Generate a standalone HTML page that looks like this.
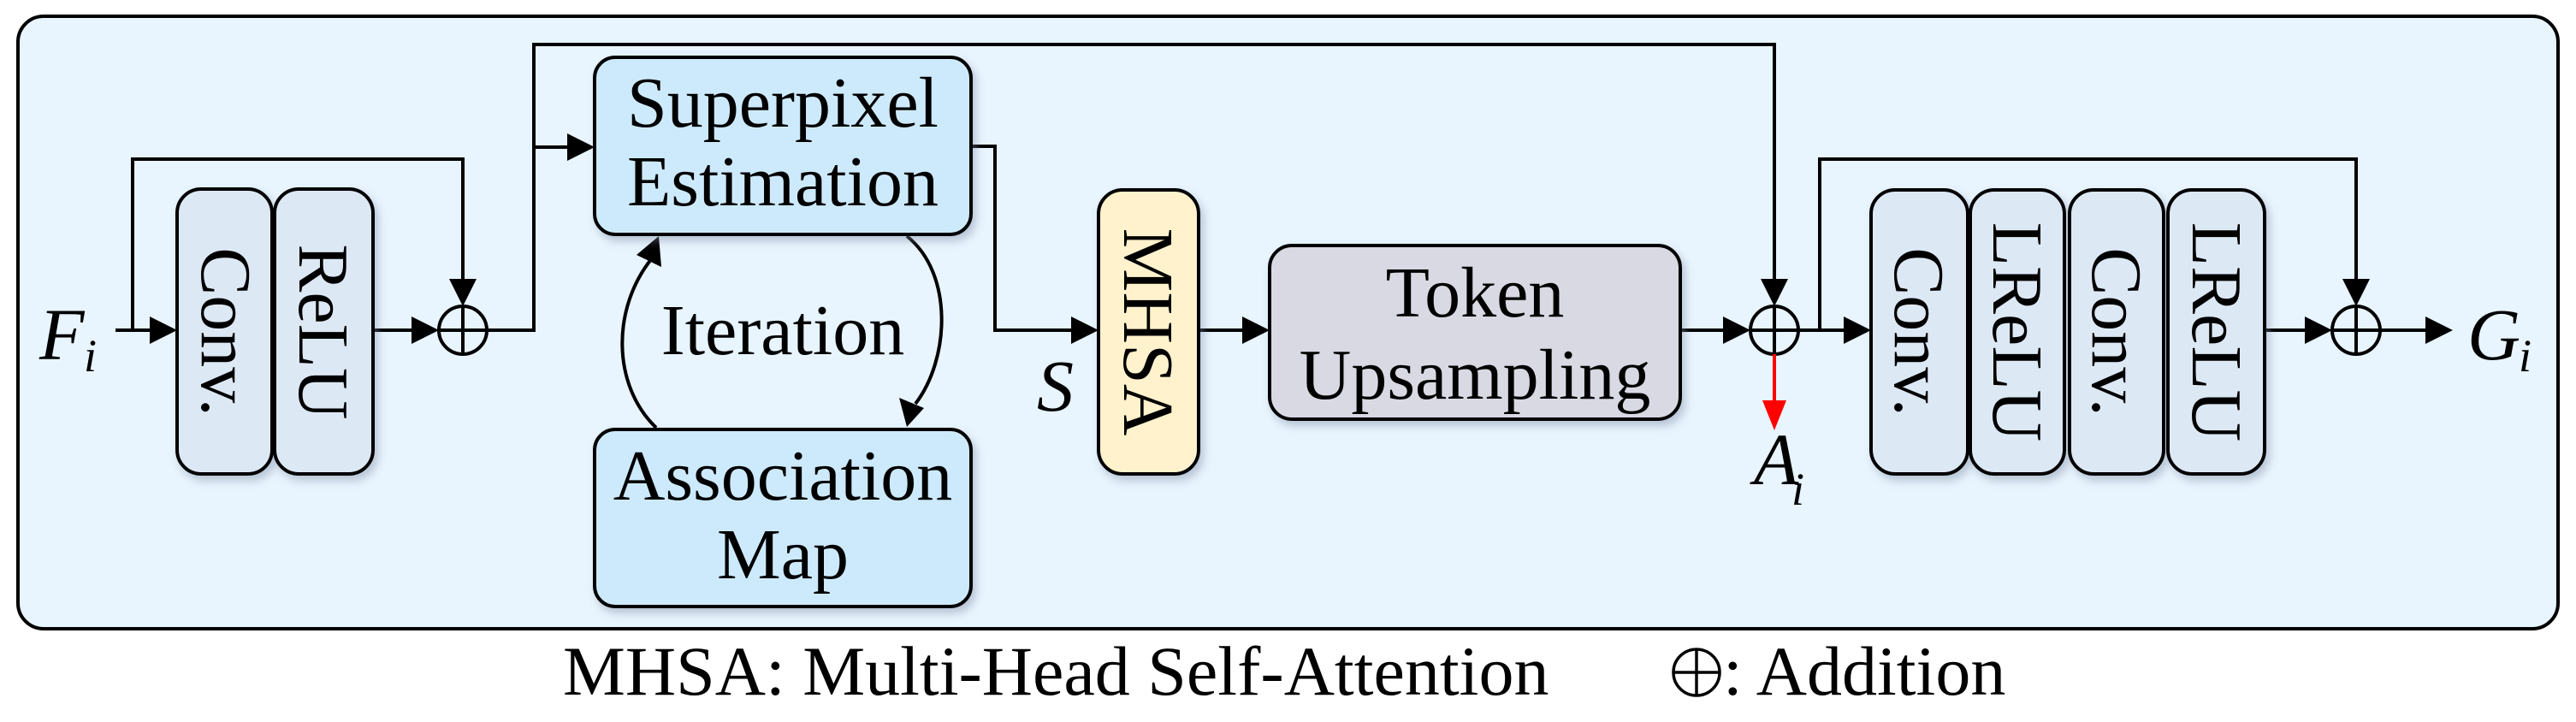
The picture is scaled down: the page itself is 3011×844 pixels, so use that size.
<!DOCTYPE html>
<html><head><meta charset="utf-8"><style>
html,body{margin:0;padding:0;background:#fff;}
svg{display:block;}
svg text{font-family:"Liberation Serif","Times New Roman",Times,"DejaVu Serif",serif !important;fill:#000;}
</style></head><body>
<svg width="3011" height="844" viewBox="0 0 3011 844" xmlns="http://www.w3.org/2000/svg" font-family="'Liberation Serif', 'Times New Roman', Times, 'DejaVu Serif', serif">
<defs>
<filter id="sh" x="-20%" y="-20%" width="140%" height="140%"><feDropShadow dx="4" dy="6" stdDeviation="5" flood-color="#7a8aa0" flood-opacity="0.45"/></filter>
</defs>
<rect x="21" y="19" width="2969" height="716" rx="30" fill="#e8f4fe" stroke="#000" stroke-width="4"/>

<g stroke="#000" stroke-width="4" fill="none">
<line x1="135" y1="386" x2="180" y2="386"/>
<polyline points="155,386 155,186 541,186 541,330"/>
<line x1="436" y1="386" x2="485" y2="386"/>
<polyline points="569,386 624,386 624,52 2074,52 2074,330"/>
<line x1="624" y1="172" x2="665" y2="172"/>
<polyline points="1135,171 1163,171 1163,386 1254,386"/>
<line x1="1401" y1="386" x2="1454" y2="386"/>
<line x1="1964" y1="386" x2="2018" y2="386"/>
<line x1="2102" y1="386" x2="2157" y2="386"/>
<polyline points="2127,386 2127,186 2754,186 2754,330"/>
<line x1="2647" y1="386" x2="2698" y2="386"/>
<line x1="2782" y1="386" x2="2838" y2="386"/>
<circle cx="541" cy="386" r="28"/>
<line x1="513" y1="386" x2="569" y2="386"/><line x1="541" y1="358" x2="541" y2="414"/>
<circle cx="2074" cy="386" r="28"/>
<line x1="2046" y1="386" x2="2102" y2="386"/><line x1="2074" y1="358" x2="2074" y2="414"/>
<circle cx="2754" cy="386" r="28"/>
<line x1="2726" y1="386" x2="2782" y2="386"/><line x1="2754" y1="358" x2="2754" y2="414"/>
<path d="M767,500 C715,450 715,360 762,302"/>
<path d="M1060,276 C1115,320 1110,420 1070,472"/>
</g>
<g fill="#000">
<polygon points="207,386 175,370 175,402"/>
<polygon points="513,386 481,370 481,402"/>
<polygon points="541,358 525,326 557,326"/>
<polygon points="695,172 663,156 663,188"/>
<polygon points="1284,386 1252,370 1252,402"/>
<polygon points="1484,386 1452,370 1452,402"/>
<polygon points="2046,386 2014,370 2014,402"/>
<polygon points="2074,358 2058,326 2090,326"/>
<polygon points="2187,386 2155,370 2155,402"/>
<polygon points="2726,386 2694,370 2694,402"/>
<polygon points="2754,358 2738,326 2770,326"/>
<polygon points="2867,386 2835,370 2835,402"/>
<polygon points="770,276 773,312 744,298"/>
<polygon points="1060,499 1051,465 1080,477"/>
</g>
<line x1="2074" y1="414" x2="2074" y2="470" stroke="#ff0000" stroke-width="4"/>
<polygon points="2074,503 2060,468 2088,468" fill="#ff0000"/>

<g stroke="#000" stroke-width="4" filter="url(#sh)">
<rect x="207" y="221" width="111" height="333" rx="28" fill="#dde8f5"/>
<rect x="321" y="221" width="115" height="333" rx="28" fill="#dde8f5"/>
<rect x="695" y="67" width="440" height="207" rx="24" fill="#cdeafc"/>
<rect x="695" y="502" width="440" height="207" rx="24" fill="#cdeafc"/>
<rect x="1284" y="222" width="117" height="332" rx="28" fill="#fff2cc"/>
<rect x="1484" y="287" width="480" height="203" rx="26" fill="#d9d9e4"/>
<rect x="2187" y="222" width="113" height="332" rx="28" fill="#dde8f5"/>
<rect x="2303" y="222" width="110" height="332" rx="28" fill="#dde8f5"/>
<rect x="2419" y="222" width="110" height="332" rx="28" fill="#dde8f5"/>
<rect x="2534" y="222" width="113" height="332" rx="28" fill="#dde8f5"/>
</g>

<g font-size="84">
<text x="915" y="148" text-anchor="middle">Superpixel</text>
<text x="915" y="240" text-anchor="middle">Estimation</text>
<text x="915" y="584" text-anchor="middle">Association</text>
<text x="915" y="676" text-anchor="middle">Map</text>
<text x="915" y="414" text-anchor="middle">Iteration</text>
<text x="1724" y="370" text-anchor="middle">Token</text>
<text x="1724" y="466" text-anchor="middle">Upsampling</text>
<text transform="translate(236,388) rotate(90)" text-anchor="middle">Conv.</text>
<text transform="translate(350,388) rotate(90)" text-anchor="middle">ReLU</text>
<text transform="translate(1314,388) rotate(90)" text-anchor="middle">MHSA</text>
<text transform="translate(2215,388) rotate(90)" text-anchor="middle">Conv.</text>
<text transform="translate(2330,388) rotate(90)" text-anchor="middle">LReLU</text>
<text transform="translate(2446,388) rotate(90)" text-anchor="middle">Conv.</text>
<text transform="translate(2563,388) rotate(90)" text-anchor="middle">LReLU</text>
</g>
<g font-style="italic" font-size="86">
<text x="46" y="420">F</text><text x="98" y="434" font-size="54">i</text>
<text x="1212" y="480">S</text>
<text x="2050" y="566">A</text><text x="2094" y="590" font-size="54">i</text>
<text x="2884" y="420">G</text><text x="2944" y="434" font-size="54">i</text>
</g>
<text x="658" y="812" font-size="82">MHSA: Multi-Head Self-Attention</text>
<g stroke="#000" stroke-width="3.5" fill="none">
<circle cx="1983" cy="786" r="27"/>
<line x1="1956" y1="786" x2="2010" y2="786"/><line x1="1983" y1="759" x2="1983" y2="813"/>
</g>
<text x="2014" y="812" font-size="82">: Addition</text>
</svg>
</body></html>
